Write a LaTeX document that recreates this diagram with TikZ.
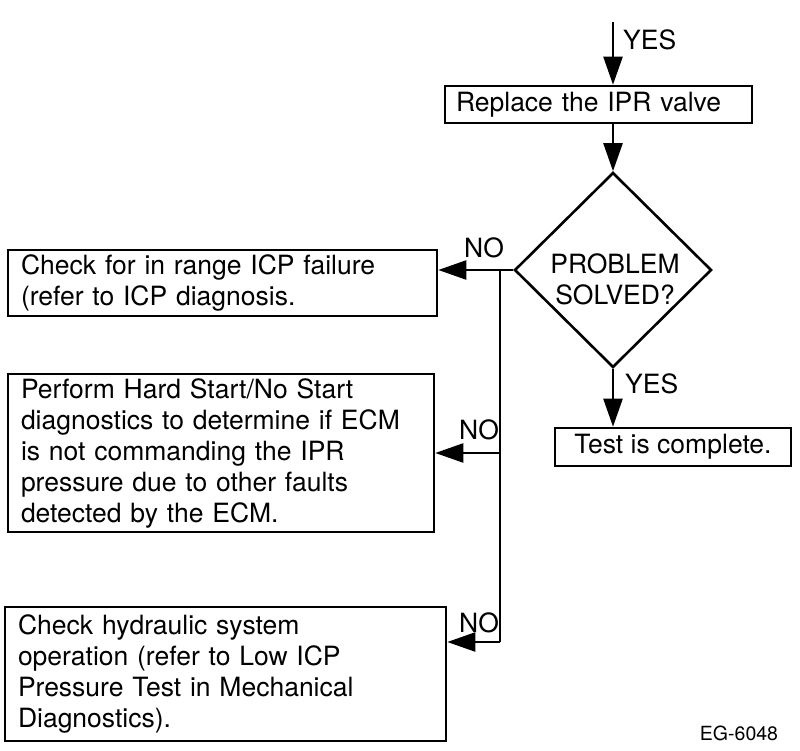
\documentclass[tikz,border=0pt]{standalone}
\usepackage{fontspec}
\setmainfont{TeX Gyre Heros}
\usetikzlibrary{arrows.meta,shapes.geometric}
\begin{document}
\begin{tikzpicture}[x=1pt,y=-1pt,
  every node/.style={font=\fontsize{26.5}{31}\selectfont},
  box/.style={draw,line width=2.6pt,rectangle,inner sep=0pt,align=left},
  lbl/.style={inner sep=0pt},
  conn/.style={line width=2.4pt,-{Triangle[length=28pt,width=19pt]}},
  line/.style={line width=2.4pt}]
\useasboundingbox (0,0) rectangle (800,751);
\node[box,minimum width=307pt,minimum height=37pt,text width=285pt] (replace) at (598.5,104.5) {Replace the IPR valve};
\node[draw,line width=2.6pt,diamond,minimum width=197pt,minimum height=195pt,inner sep=0pt] (solved) at (613,270) {};
\node[lbl,align=center] (solvedtxt) at (615,279) {PROBLEM\\SOLVED?};
\node[box,minimum width=429pt,minimum height=66pt,text width=403pt] (b1) at (222.5,283) {Check for in range ICP failure\\(refer to ICP diagnosis.};
\node[box,minimum width=426pt,minimum height=158pt,text width=400pt] (b2) at (221,453) {Perform Hard Start/No Start\\diagnostics to determine if ECM\\is not commanding the IPR\\pressure due to other faults\\detected by the ECM.};
\node[box,minimum width=441pt,minimum height=134pt,text width=415pt] (b3) at (225.5,674) {Check hydraulic system\\operation (refer to Low ICP\\Pressure Test in Mechanical\\Diagnostics).};
\node[box,minimum width=236pt,minimum height=38pt,align=center] (done) at (673,447) {Test is complete.};
\coordinate (start) at (613,22);
\coordinate (j1) at (500,271);
\coordinate (j2) at (500,453);
\coordinate (j3) at (500,642);
\draw[conn] (start) -- (replace.north -| start);
\draw[conn] (replace.south -| solved.north) -- (solved.north);
\draw[conn] (solved.west) -- (b1.east |- solved.west);
\draw[line] (j1) -- (j3);
\draw[conn] (j2) -- (b2.east |- j2);
\draw[conn] (j3) -- (b3.east |- j3);
\draw[conn] (solved.south) -- (done.north -| solved.south);
\node[lbl,anchor=west] (yes1) at (623,40) {YES};
\node[lbl,anchor=west] (yes2) at (625,384) {YES};
\node[lbl] (no1) at (484,248) {NO};
\node[lbl] (no2) at (479,430) {NO};
\node[lbl] (no3) at (479,623) {NO};
\node[lbl,font=\fontsize{19.5}{22}\selectfont] (eg) at (739,733) {EG-6048};
\end{tikzpicture}
\end{document}
